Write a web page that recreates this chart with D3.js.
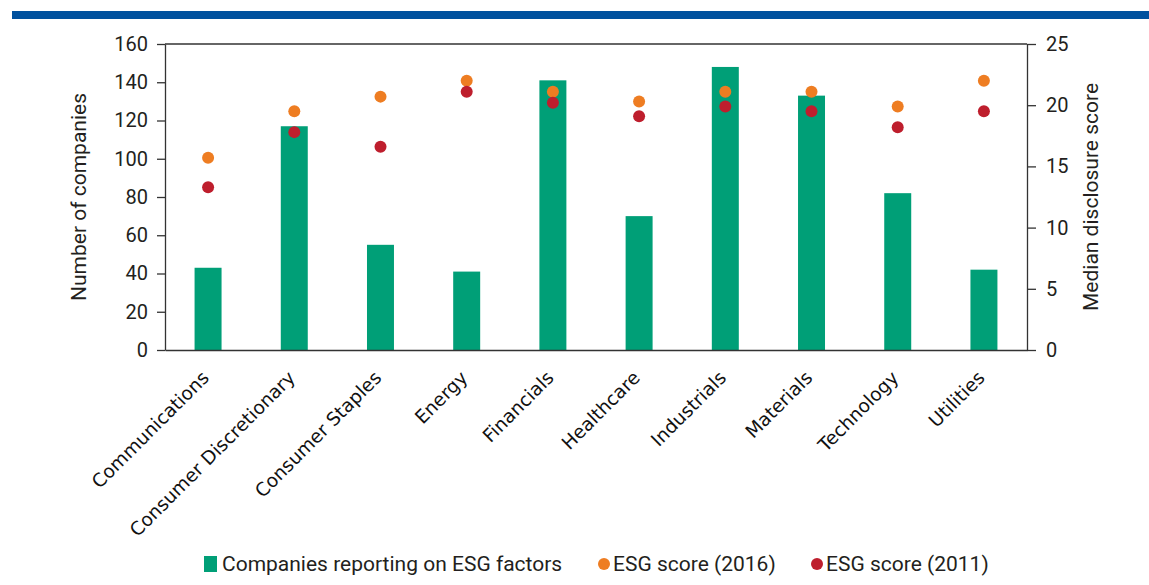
<!DOCTYPE html>
<html>
<head>
<meta charset="utf-8">
<script src="https://cdn.jsdelivr.net/npm/d3@7"></script>
<style>
	body { margin: 0; background: #fff; }
	#chart { width: 1149px; height: 585px; }
	.axis text { font-family: Roboto, "Liberation Sans", sans-serif; font-size: 20px; fill: #231f20; }
	.axis path, .axis line { stroke: #333; stroke-width: 1.3; }
	.x-label { font-family: "DejaVu Sans", sans-serif; font-size: 18.6px; fill: #111; }
	.title { font-family: Roboto, "Liberation Sans", sans-serif; font-size: 21px; fill: #231f20; }
	.legend text { font-family: Roboto, "Liberation Sans", sans-serif; font-size: 21px; fill: #231f20; }
</style>
</head>
<body>
<div id="chart"></div>
<script>
// chart data
let sectors = ["Communications", "Consumer Discretionary", "Consumer Staples", "Energy", "Financials",
	"Healthcare", "Industrials", "Materials", "Technology", "Utilities"];
let companiesReporting = [43, 117, 55, 41, 141, 70, 148, 133, 82, 42];
let score2016 = [15.7, 19.5, 20.7, 22.0, 21.1, 20.3, 21.1, 21.1, 19.9, 22.0];
let score2011 = [13.3, 17.8, 16.6, 21.1, 20.2, 19.1, 19.9, 19.5, 18.2, 19.5];
let leftTicks = [0, 20, 40, 60, 80, 100, 120, 140, 160];
let rightTicks = [0, 5, 10, 15, 20, 25];

let colors = {bar: "#009f77", s2016: "#ee7d22", s2011: "#be1e2d", band: "#00519e"};

// margins and size
let margin = {top: 44, right: 122, bottom: 235, left: 165};
let totalW = 1149, totalH = 585;
let width = totalW - margin.left - margin.right;
let height = totalH - margin.top - margin.bottom;

let svg = d3.select("#chart").append("svg")
	.attr("width", totalW)
	.attr("height", totalH);

// blue band at the top
svg.append("rect")
	.attr("x", 12).attr("y", 11)
	.attr("width", totalW - 12).attr("height", 8)
	.attr("fill", colors.band);

let g = svg.append("g")
	.attr("transform", "translate(" + margin.left + "," + margin.top + ")");

// scales
let x = d3.scaleBand()
	.domain(sectors)
	.range([0, width])
	.paddingInner(0.687)
	.paddingOuter(0.343);
let xc = d3.scaleBand().domain(sectors).range([0, width]);
let yLeft = d3.scaleLinear().domain([0, 160]).range([height, 0]);
let yRight = d3.scaleLinear().domain([0, 25]).range([height, 0]);

// bars
g.selectAll(".bar")
	.data(companiesReporting)
	.enter().append("rect")
	.attr("class", "bar")
	.attr("x", (d, i) => x(sectors[i]))
	.attr("width", x.bandwidth())
	.attr("y", d => yLeft(d))
	.attr("height", d => height - yLeft(d))
	.attr("fill", colors.bar);

// dots
function drawDots(values, color) {
	g.selectAll(null)
		.data(values)
		.enter().append("circle")
		.attr("cx", (d, i) => xc(sectors[i]) + xc.bandwidth() / 2)
		.attr("cy", d => yRight(d))
		.attr("r", 6)
		.attr("fill", color);
}
drawDots(score2016, colors.s2016);
drawDots(score2011, colors.s2011);

// top frame line
g.append("line")
	.attr("x1", 0).attr("x2", width)
	.attr("y1", 0).attr("y2", 0)
	.attr("stroke", "#333").attr("stroke-width", 1.3);

// axes
g.append("g")
	.attr("class", "axis")
	.call(d3.axisLeft(yLeft).tickValues(leftTicks).tickSize(8).tickPadding(9).tickSizeOuter(0));
g.append("g")
	.attr("class", "axis")
	.attr("transform", "translate(" + width + ",0)")
	.call(d3.axisRight(yRight).tickValues(rightTicks).tickSize(9).tickPadding(10).tickSizeOuter(0));
let xAxis = g.append("g")
	.attr("class", "axis")
	.attr("transform", "translate(0," + height + ")")
	.call(d3.axisBottom(xc).tickSize(0).tickSizeOuter(0).tickFormat(""));
xAxis.select(".domain").attr("stroke-width", 2);

// rotated category labels
g.selectAll(".x-label")
	.data(sectors)
	.enter().append("text")
	.attr("class", "x-label")
	.attr("text-anchor", "end")
	.attr("transform", d => "translate(" + (xc(d) + xc.bandwidth() / 2 + 2) + "," + (height + 29) + ") rotate(-45)")
	.text(d => d);

// axis titles
g.append("text")
	.attr("class", "title")
	.attr("text-anchor", "middle")
	.attr("transform", "translate(" + (-79) + "," + (height / 2) + ") rotate(-90)")
	.text("Number of companies");
g.append("text")
	.attr("class", "title")
	.attr("text-anchor", "middle")
	.attr("transform", "translate(" + (width + 71) + "," + (height / 2) + ") rotate(-90)")
	.text("Median disclosure score");

// legend
let legend = svg.append("g").attr("class", "legend");
legend.append("rect")
	.attr("x", 204).attr("y", 556)
	.attr("width", 13).attr("height", 16)
	.attr("fill", colors.bar);
legend.append("text").attr("x", 222).attr("y", 571).text("Companies reporting on ESG factors");
legend.append("circle").attr("cx", 604).attr("cy", 564).attr("r", 6).attr("fill", colors.s2016);
legend.append("text").attr("x", 613).attr("y", 571).text("ESG score (2016)");
legend.append("circle").attr("cx", 817).attr("cy", 564).attr("r", 6).attr("fill", colors.s2011);
legend.append("text").attr("x", 826).attr("y", 571).text("ESG score (2011)");
</script>
</body>
</html>
